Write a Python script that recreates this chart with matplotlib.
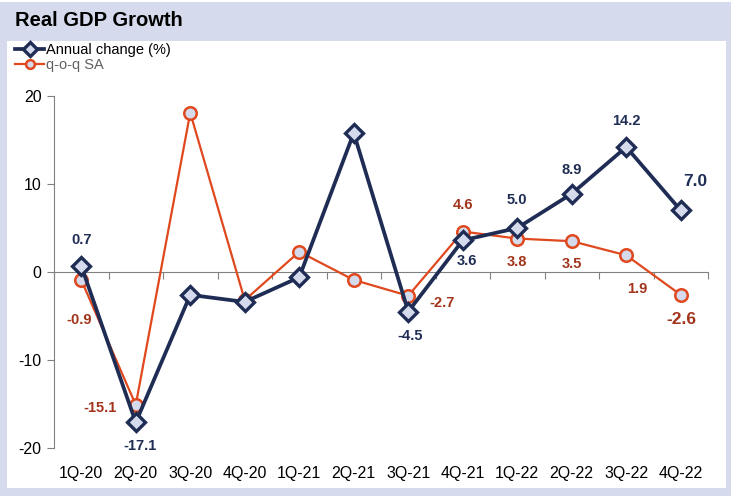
import numpy as np
import matplotlib
matplotlib.use("Agg")
import matplotlib.pyplot as plt
from matplotlib.patches import Rectangle

plt.rcParams["font.family"] = ["Liberation Sans", "DejaVu Sans"]
plt.rcParams["axes.unicode_minus"] = False

# ── Data ──
quarters = ["1Q-20", "2Q-20", "3Q-20", "4Q-20", "1Q-21", "2Q-21",
            "3Q-21", "4Q-21", "1Q-22", "2Q-22", "3Q-22", "4Q-22"]
annual = [0.7, -17.1, -2.6, -3.4, -0.6, 15.8, -4.5, 3.6, 5.0, 8.9, 14.2, 7.0]
qoq = [-0.9, -15.1, 18.1, -3.2, 2.3, -0.9, -2.7, 4.6, 3.8, 3.5, 1.9, -2.6]

# data labels: index -> (dx, dy) pixel offsets
annual_lbl = {0: (0, 26), 1: (4, -24), 6: (2, -24), 7: (4, -21),
              8: (0, 28), 9: (0, 24), 10: (0, 26), 11: (15, 29)}
qoq_lbl = {0: (-2, -40), 1: (-36, -3), 6: (34, -7), 7: (0, 27),
           8: (0, -23), 9: (0, -23), 10: (11, -34), 11: (1, -25)}

NAVY = "#1f2d55"
ORANGE = "#e0481e"
RED_LBL = "#a2341c"
LAV = "#d5dbec"
GRAY = "#808080"

W, H = 731, 496
fig = plt.figure(figsize=(W / 100, H / 100), dpi=100, facecolor=LAV)

# white panel + title band
fig.patches.append(Rectangle((7 / W, 1 - 488 / H), (726 - 7) / W, (488 - 41) / H,
                             transform=fig.transFigure, facecolor="white",
                             edgecolor="none", zorder=-2))
fig.patches.append(Rectangle((0, 1 - 2 / H), 1, 2 / H, transform=fig.transFigure,
                             facecolor="white", edgecolor="none", zorder=-2))
fig.text(15 / W, 1 - 21 / H, "Real GDP Growth", fontsize=14.5, fontweight="bold",
         color="black", va="center", ha="left")

ax = fig.add_axes([54 / W, 1 - 448 / H, (708 - 54) / W, (448 - 96) / H])
ax.set_facecolor("none")
ax.set_zorder(2)

x = np.arange(len(quarters))
ax.plot(x, annual, color=NAVY, lw=2.7, marker="D", ms=9.5, mfc=LAV, mec=NAVY,
        mew=2.4, zorder=4, label="Annual change (%)")
ax.plot(x, qoq, color=ORANGE, lw=1.6, marker="o", ms=9, mfc=LAV, mec=ORANGE,
        mew=1.8, zorder=3, label="q-o-q SA")

for i, (dx, dy) in annual_lbl.items():
    big = i == len(quarters) - 1
    ax.annotate(f"{annual[i]:.1f}", (x[i], annual[i]), xytext=(dx, dy),
                textcoords="offset pixels", ha="center", va="center",
                fontsize=12.5 if big else 10.5, fontweight="bold", color=NAVY)
for i, (dx, dy) in qoq_lbl.items():
    big = i == len(quarters) - 1
    ax.annotate(f"{qoq[i]:.1f}", (x[i], qoq[i]), xytext=(dx, dy),
                textcoords="offset pixels", ha="center", va="center",
                fontsize=12.5 if big else 10.5, fontweight="bold", color=RED_LBL)

ax.set_xlim(-0.5, len(quarters) - 0.5)
ax.set_ylim(-20, 20)
ax.set_yticks([-20, -10, 0, 10, 20])
ax.tick_params(axis="y", direction="out", length=5, color=GRAY, labelsize=11.5,
               pad=4, labelcolor="black")
ax.set_xticks(x)
ax.set_xticklabels(quarters)
ax.tick_params(axis="x", length=0, labelsize=11.5, pad=13, labelcolor="black")

for s in ["top", "right", "bottom"]:
    ax.spines[s].set_visible(False)
ax.spines["left"].set_color(GRAY)

# zero line with category-boundary ticks pointing down
zero_ax = ax.secondary_xaxis(0.5)
zero_ax.set_xticks(np.arange(len(quarters) + 1) - 0.5)
zero_ax.xaxis.set_ticks_position("bottom")
zero_ax.tick_params(axis="x", which="both", direction="out", length=5,
                    color=GRAY, bottom=True, top=False,
                    labelbottom=False, labeltop=False)
zero_ax.spines["bottom"].set_color(GRAY)
zero_ax.spines["top"].set_color(GRAY)

leg = fig.legend(loc="upper left", bbox_to_anchor=(15 / W, 1 - 43 / H),
                 frameon=False, fontsize=10.5, handlelength=2.0,
                 handletextpad=0.1, labelspacing=0.05, borderaxespad=0,
                 borderpad=0, markerscale=0.7)
leg.set_zorder(3)
leg.get_texts()[1].set_color("#606060")

fig.savefig("out.png", dpi=100, facecolor=LAV)
